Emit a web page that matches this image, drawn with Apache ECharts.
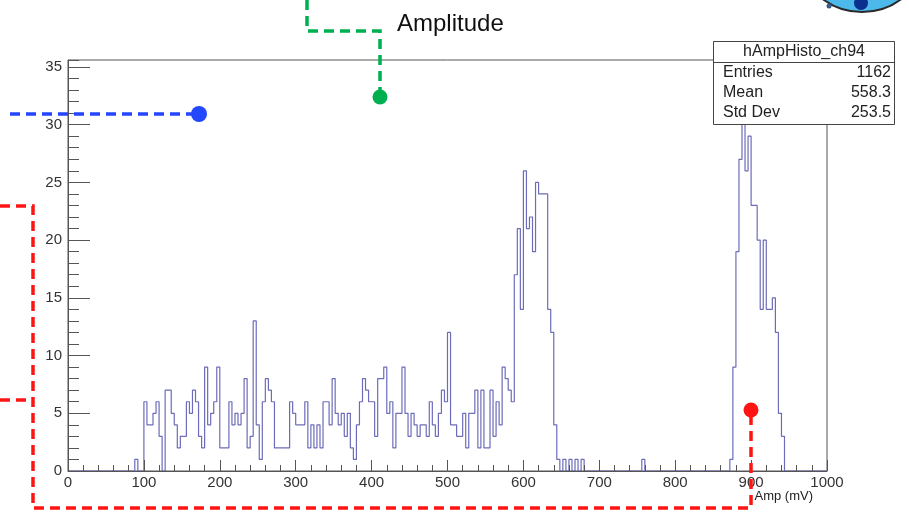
<!DOCTYPE html>
<html>
<head>
<meta charset="utf-8">
<script src="https://cdn.jsdelivr.net/npm/echarts@6/dist/echarts.min.js"></script>
<style>
  html, body { margin: 0; padding: 0; background: #ffffff; }
  #chart { width: 909px; height: 512px; }
</style>
</head>
<body>
<div id="chart"></div>
<script>
// Histogram hAmpHisto_ch94: 250 bins of 4 mV over 0–1000 mV.
const binWidth = 4;
const xMin = 0;
const xMax = 1000;

// Bin contents, one array per 100 mV (25 bins each).
const amp000 = [0,0,0,0,0, 0,0,0,0,0, 0,0,0,0,0, 0,0,0,0,0, 0,0,1,0,0];
const amp100 = [6,4,4,5,6, 3,0,7,7,5, 4,2,3,3,6, 5,7,6,3,2, 9,4,5,6,9];
const amp200 = [2,2,2,6,4, 5,4,5,8,2, 3,13,4,1,6, 8,7,6,2,2, 2,2,2,6,5];
const amp300 = [4,4,4,6,2, 4,2,4,2,6, 6,4,8,5,4, 5,3,5,2,1, 4,6,8,7,6];
const amp400 = [6,3,8,8,9, 5,6,2,5,5, 9,5,3,5,4, 3,4,4,3,6, 4,3,5,7,6];
const amp500 = [12,4,4,3,3, 5,2,5,5,7, 2,7,2,2,7, 3,6,4,9,8, 7,6,17,21,14];
const amp600 = [26,21,22,19,25, 24,24,24,14,12, 4,1,0,1,0, 1,0,1,0,1, 0,0,0,0,0];
const amp700 = [0,0,0,0,0, 0,0,0,0,0, 0,0,0,0,1, 0,0,0,0,0, 0,0,0,0,0];
const amp800 = [0,0,0,0,0, 0,0,0,0,0, 0,0,0,0,0, 0,0,0,1,9, 19,27,31,26,29];
const amp900 = [23,23,20,14,20, 14,14,15,12,5, 3,0,0,0,0, 0,0,0,0,0, 0,0,0,0,0];

// Statistics box contents
const histName = 'hAmpHisto_ch94';
const statLabels = ['Entries', 'Mean', 'Std Dev'];
const statValues = ['1162', '558.3', '253.5'];

// Axis ticks
const yMax = 35.6;
const yMajorStep = 5;
const yMinorStep = 1;
const xMajorStep = 100;

const counts = [].concat(amp000, amp100, amp200, amp300, amp400,
                         amp500, amp600, amp700, amp800, amp900);
// Left bin edges with their contents; the closing point ends the outline.
const outline = counts.map((c, i) => [xMin + i * binWidth, c]);
outline.push([xMax, 0]);

const FONT = 'Liberation Sans, Arial, Helvetica, sans-serif';
const AXIS_GREY = '#555555';
const HIST_COLOR = '#6c6cba';

const chart = echarts.init(document.getElementById('chart'), null, { renderer: 'canvas' });

// Dashed callout lines drawn over the canvas
function dashed(points, color) {
  return {
    type: 'polyline',
    z: 120,
    silent: true,
    shape: { points: points },
    style: { stroke: color, lineWidth: 3.5, lineDash: [10, 6], fill: null }
  };
}
function dot(x, y, r, color) {
  return {
    type: 'circle', z: 121, silent: true,
    shape: { cx: x, cy: y, r: r },
    style: { fill: color }
  };
}

const statRows = [];
statLabels.forEach((lab, i) => {
  const y = 73 + i * 20;
  statRows.push({
    type: 'text', z: 111, silent: true,
    style: { x: 723, y: y, text: lab, font: '16px ' + FONT, fill: '#222',
             align: 'left', verticalAlign: 'middle' }
  });
  statRows.push({
    type: 'text', z: 111, silent: true,
    style: { x: 891, y: y, text: statValues[i], font: '16px ' + FONT, fill: '#222',
             align: 'right', verticalAlign: 'middle' }
  });
});

const plainNumber = v => String(v);

const option = {
  animation: false,
  backgroundColor: '#ffffff',
  title: {
    text: 'Amplitude',
    left: 392,
    top: 7,
    textStyle: { fontFamily: FONT, fontSize: 24, fontWeight: 'normal', color: '#111' }
  },
  grid: {
    left: 68, right: 82, top: 60, bottom: 41,
    show: true, borderColor: AXIS_GREY, borderWidth: 1, backgroundColor: 'transparent'
  },
  xAxis: {
    type: 'value',
    min: xMin, max: xMax, interval: xMajorStep,
    z: 5,
    name: 'Amp (mV)',
    nameLocation: 'end',
    nameGap: -14,
    nameTextStyle: {
      fontFamily: FONT, fontSize: 13, color: '#222',
      align: 'right', verticalAlign: 'top', padding: [19, 0, 0, 0]
    },
    axisLine: { show: true, lineStyle: { color: AXIS_GREY, width: 1 } },
    axisTick: { show: true, inside: true, length: 11, lineStyle: { color: AXIS_GREY } },
    minorTick: { show: true, splitNumber: 5, length: 6, lineStyle: { color: AXIS_GREY } },
    axisLabel: { fontFamily: FONT, fontSize: 15, color: '#333', margin: 4, formatter: plainNumber },
    splitLine: { show: false }
  },
  yAxis: [
    {
      type: 'value',
      min: 0, max: yMax, interval: yMajorStep,
      position: 'left',
      z: 5,
      axisLine: { show: true, lineStyle: { color: AXIS_GREY, width: 1 } },
      axisTick: { show: true, inside: true, length: 22, lineStyle: { color: AXIS_GREY } },
      axisLabel: { fontFamily: FONT, fontSize: 15, color: '#333', margin: 6,
                   showMaxLabel: false, formatter: plainNumber },
      splitLine: { show: false }
    },
    {
      type: 'value',
      min: 0, max: yMax, interval: yMinorStep,
      position: 'left',
      offset: 0,
      z: 5,
      axisLine: { show: false },
      axisTick: { show: true, inside: true, length: 11, lineStyle: { color: AXIS_GREY } },
      axisLabel: { show: false },
      splitLine: { show: false }
    }
  ],
  series: [
    {
      name: histName,
      type: 'line',
      step: 'end',
      xAxisIndex: 0,
      yAxisIndex: 0,
      data: outline,
      showSymbol: false,
      symbol: 'none',
      clip: true,
      lineStyle: { color: HIST_COLOR, width: 1.2 },
      z: 2
    }
  ],
  graphic: [
    // logo partially visible at the top edge
    {
      type: 'group', z: 90, silent: true,
      children: [
        { type: 'circle', shape: { cx: 862, cy: -54, r: 66 },
          style: { fill: '#4db8ea', stroke: '#2a2a2a', lineWidth: 2 } },
        { type: 'circle', shape: { cx: 861, cy: 3, r: 7 }, style: { fill: '#0b2f8f' } },
        { type: 'circle', shape: { cx: 829, cy: 6, r: 2.5 }, style: { fill: '#3a5a8a' } }
      ]
    },
    // statistics box
    {
      type: 'rect', z: 110, silent: true,
      shape: { x: 713.5, y: 41.5, width: 181, height: 83 },
      style: { fill: '#ffffff', stroke: '#444', lineWidth: 1 }
    },
    {
      type: 'line', z: 111, silent: true,
      shape: { x1: 713.5, y1: 62.5, x2: 894.5, y2: 62.5 },
      style: { stroke: '#444', lineWidth: 1 }
    },
    {
      type: 'text', z: 111, silent: true,
      style: { x: 804, y: 52, text: histName, font: '16px ' + FONT, fill: '#222',
               align: 'center', verticalAlign: 'middle' }
    },
    ...statRows,
    // green callout
    dashed([[307, 0], [307, 31], [380, 31], [380, 97]], '#00b050'),
    dot(380, 97, 7.5, '#00b050'),
    // blue callout
    dashed([[10, 114], [198, 114]], '#2346ff'),
    dot(199, 114, 8, '#2346ff'),
    // red callout
    dashed([[0, 206], [33, 206], [33, 508], [751, 508], [751, 410]], '#ff1414'),
    dashed([[0, 400], [33, 400]], '#ff1414'),
    dot(751, 410, 7.5, '#ff1414')
  ]
};

chart.setOption(option);
</script>
</body>
</html>
